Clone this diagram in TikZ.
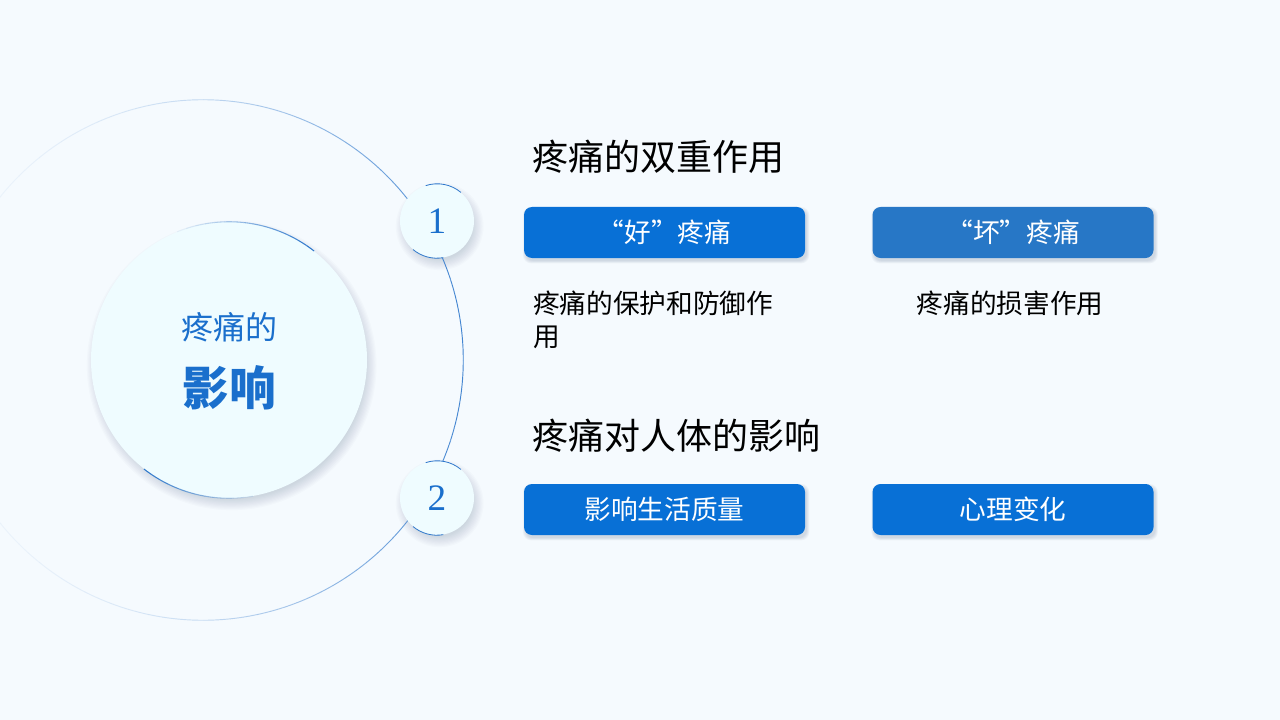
\documentclass[tikz,border=0pt]{standalone}
\usepackage{fontspec}
\newfontfamily\cjk{Noto Sans CJK SC}
\newfontfamily\digitfont{Liberation Serif}
\usetikzlibrary{positioning,backgrounds}

\definecolor{pagebg}{HTML}{F5FAFE}
\definecolor{discfill}{HTML}{EFFCFF}
\definecolor{ringblue}{HTML}{2F78CC}
\definecolor{titleblue}{HTML}{1A6FCC}
\definecolor{goodblue}{HTML}{0870D6}
\definecolor{badblue}{HTML}{2777C6}
\definecolor{shadeink}{HTML}{3A4F78}

\pgfdeclarelayer{shade}
\pgfsetlayers{background,shade,main}

% soft shadows, built from stacked faint fills
\newcommand\discshade[2]{%
  \foreach \k in {0,...,9}{\fill[shadeink, opacity=0.018] ([xshift=2pt, yshift=-4pt]#1.center) circle[radius=#2-3pt+\k*0.9pt];}}
\newcommand\boxshade[1]{%
  \foreach \k in {0,...,4}{\fill[shadeink, opacity=0.04, rounded corners=6pt]
    ([xshift=1.2pt-\k*0.45pt, yshift=-2pt-\k*0.45pt]#1.south west) rectangle ([xshift=1.2pt+\k*0.45pt, yshift=-2pt+\k*0.45pt]#1.north east);}}

\tikzset{
  disc/.style={circle, fill=discfill, inner sep=0pt},
  numdisc/.style={disc, minimum size=55.5pt, text=titleblue, font=\digitfont\fontsize{28}{30}\selectfont},
  tagbox/.style={rectangle, rounded corners=6pt, fill=goodblue, text=white,
    minimum width=210.75pt, minimum height=38.25pt, inner sep=0pt, font=\cjk\fontsize{20}{24}\selectfont},
  headline/.style={anchor=west, inner sep=0pt, font=\cjk\fontsize{27}{32}\selectfont},
  note/.style={inner sep=0pt, font=\cjk\fontsize{20}{24.75}\selectfont},
}

\begin{document}
\begin{tikzpicture}[x=0.75pt, y=-0.75pt]
    \begin{pgfonlayer}{background}
        \fill[pagebg] (0,0) rectangle (1280,720);
    \end{pgfonlayer}
    \useasboundingbox (0,0) rectangle (1280,720);

    % Orbit ring, fading to the left
    \node (orbit) [circle, minimum size=390pt, inner sep=0pt] at (203,360) {};
    \foreach \a in {0,3,...,357}{
        \pgfmathsetmacro\op{0.04+0.86*((1+cos(\a))/2)^2}
        \draw[ringblue, line width=0.7pt, draw opacity=\op] (orbit.\a) arc[start angle=\a, end angle=\a+3, radius=195pt];
    }

    % Core disc
    \node (core) [disc, minimum size=207pt] at (229,360) {};
    \foreach \a in {52,56,...,108}{
        \pgfmathsetmacro\op{1-(\a-52)/60}
        \draw[ringblue, line width=0.8pt, draw opacity=\op] (core.\a) arc[start angle=\a, end angle=\a+4, radius=103.5pt];
    }
    \foreach \a in {232,236,...,276}{
        \pgfmathsetmacro\op{1-(\a-232)/50}
        \draw[ringblue, line width=0.8pt, draw opacity=\op] (core.\a) arc[start angle=\a, end angle=\a+4, radius=103.5pt];
    }
    \node (corehead) [text=titleblue, inner sep=0pt, font=\cjk\fontsize{24}{28}\selectfont] at (229,327) {疼痛的};
    \node (corekey) [text=titleblue, inner sep=0pt, font=\cjk\fontsize{35}{40}\selectfont\bfseries] at (229,388) {影响};

    % Number discs
    \node (one) [numdisc] at (437,221) {1};
    \node (two) [numdisc] at (437,498) {2};
    \draw[ringblue, line width=0.6pt] (one.50) arc[start angle=50, end angle=108, radius=27.75pt];
    \draw[ringblue, line width=0.6pt] (one.230) arc[start angle=230, end angle=280, radius=27.75pt];
    \draw[ringblue, line width=0.6pt] (two.50) arc[start angle=50, end angle=108, radius=27.75pt];
    \draw[ringblue, line width=0.6pt] (two.230) arc[start angle=230, end angle=280, radius=27.75pt];

    % Section 1
    \node (dual) [headline] at (532,157) {疼痛的双重作用};
    \node (good) [tagbox] at (664.5,232.5) {“好”疼痛};
    \node (bad) [tagbox, fill=badblue, right=50.25pt of good] {“坏”疼痛};
    \node (guard) [note, anchor=west, align=left] at (533,319.5) {疼痛的保护和防御作\\用};
    \node (harm) [note] at (1010,303) {疼痛的损害作用};

    % Section 2
    \node (body) [headline] at (532,436) {疼痛对人体的影响};
    \node (life) [tagbox] at (664.5,509.5) {影响生活质量};
    \node (mind) [tagbox, right=50.25pt of life] {心理变化};

    % Shadows
    \begin{pgfonlayer}{shade}
        \discshade{core}{103.5pt}
        \discshade{one}{27.75pt}
        \discshade{two}{27.75pt}
        \boxshade{good}
        \boxshade{bad}
        \boxshade{life}
        \boxshade{mind}
    \end{pgfonlayer}
\end{tikzpicture}
\end{document}
